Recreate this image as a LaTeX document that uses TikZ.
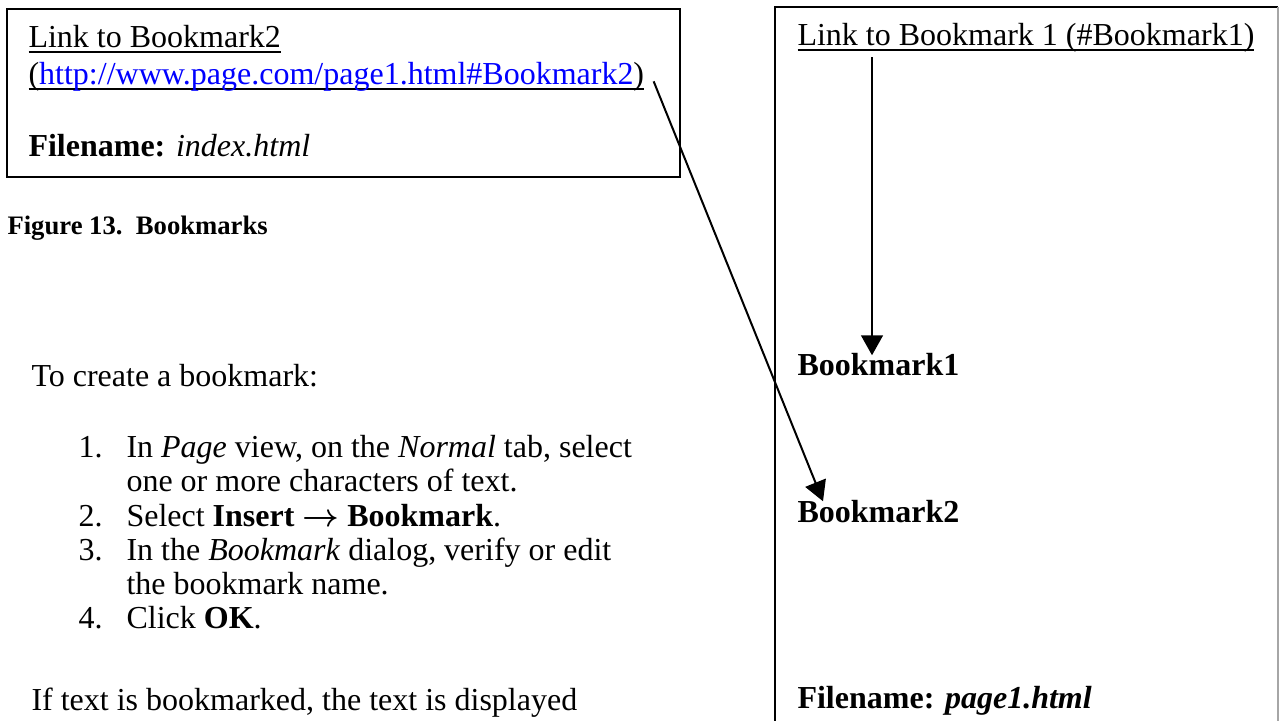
\documentclass[tikz,border=0pt]{standalone}
\usepackage{fontspec}
\setmainfont{Liberation Serif}
\usetikzlibrary{arrows.meta}
\definecolor{urlblue}{RGB}{0,0,255}
\newcommand{\undertext}[1]{\setbox0\hbox{#1}\rlap{\rule[-1.9pt]{\wd0}{0.75pt}}\box0}

\begin{document}
\begin{tikzpicture}[
    x=0.375pt, y=-0.375pt,
    frame/.style={draw, line width=0.75pt},
    bodytext/.style={anchor=base west, inner sep=0pt, font=\fontsize{12}{14}\selectfont},
    captext/.style={anchor=base west, inner sep=0pt, font=\fontsize{10}{12}\selectfont\bfseries},
    linkarrow/.style={-{Triangle[length=7.5pt, width=8.2pt]}, line width=0.75pt}
]
\useasboundingbox (0,0) rectangle (1279,721);

% index.html box
\draw[frame] (7,9) rectangle (680,177);
\node[bodytext] (lnktwo) at (28,48) {\undertext{Link to Bookmark2}};
\node[bodytext] (url) at (28,85) {\undertext{(\textcolor{urlblue}{http://www.page.com/page1.html\#Bookmark2})}};
\node[bodytext] (fnidx) at (28,157) {\textbf{Filename:} \textit{index.html}};
\node[captext] (caption) at (7,235) {Figure 13.\ \ Bookmarks};

% page1.html box
\draw[frame] (775,721) -- (775,7) -- (1278,7);
\draw[draw=black!35, line width=0.4pt] (1278,7) -- (1278,721);
\node[bodytext] (lnkone) at (797,46) {\undertext{Link to Bookmark 1 (\#Bookmark1)}};
\node[bodytext] (bmone) at (797,376) {\textbf{Bookmark1}};
\node[bodytext] (bmtwo) at (797,523) {\textbf{Bookmark2}};
\node[bodytext] (fnpage) at (797,708) {\textbf{Filename: \textit{page1.html}}};

% steps
\node[bodytext] (intro) at (31,387) {To create a bookmark:};
\node[bodytext] (numone) at (78,458) {1.};
\node[bodytext] (stepone) at (126,458) {In \textit{Page} view, on the \textit{Normal} tab, select};
\node[bodytext] (steponeb) at (126,492) {one or more characters of text.};
\node[bodytext] (numtwo) at (78,527) {2.};
\node[bodytext] (steptwo) at (126,527) {Select \textbf{Insert {\boldmath$\rightarrow$} Bookmark}.};
\node[bodytext] (numthree) at (78,561) {3.};
\node[bodytext] (stepthree) at (126,561) {In the \textit{Bookmark} dialog, verify or edit};
\node[bodytext] (stepthreeb) at (126,595) {the bookmark name.};
\node[bodytext] (numfour) at (78,629) {4.};
\node[bodytext] (stepfour) at (126,629) {Click \textbf{OK}.};
\node[bodytext] (outro) at (31,710) {If text is bookmarked, the text is displayed};

% links
\draw[linkarrow] ([shift={(75,4)}]lnkone.south west) -- ([shift={(75,2)}]bmone.north west);
\draw[linkarrow] ([shift={(9,4)}]url.east) -- ([shift={(26,1)}]bmtwo.north west);
\end{tikzpicture}
\end{document}
